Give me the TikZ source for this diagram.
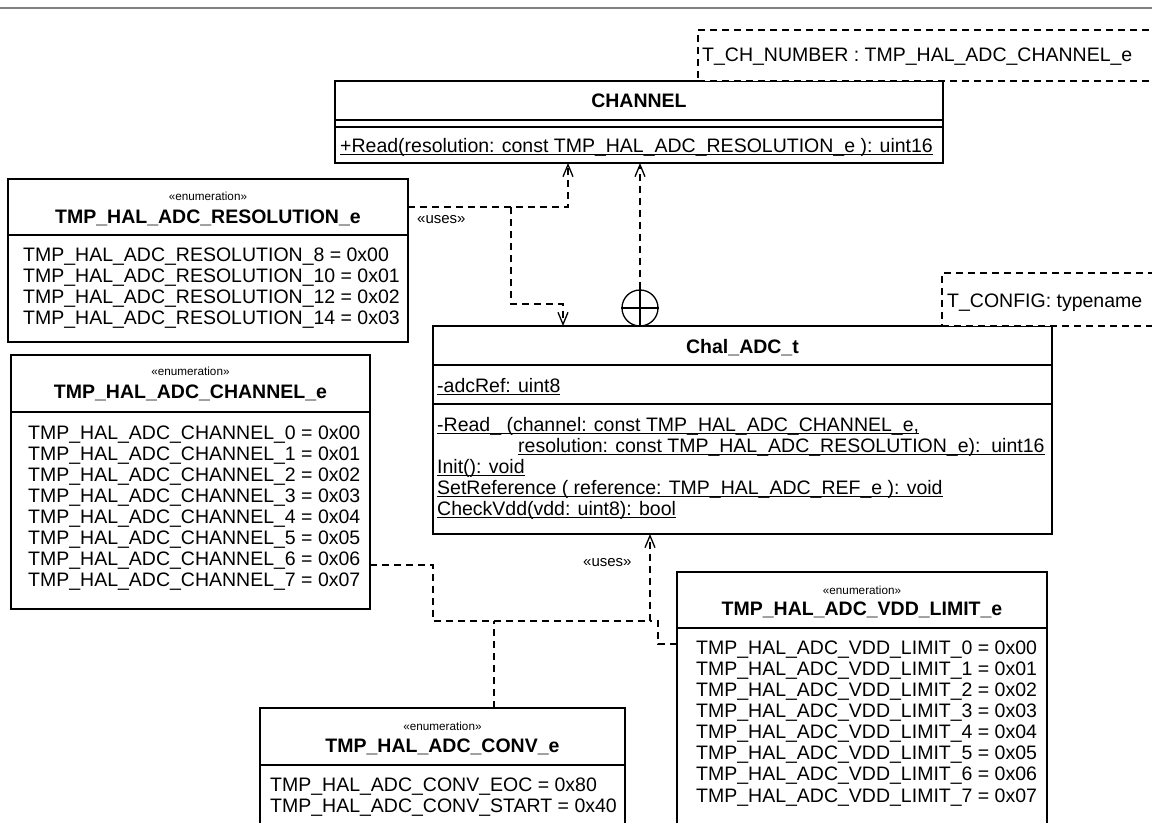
\documentclass[tikz,border=0pt]{standalone}
\usepackage{fontspec}
\setmainfont{Liberation Sans}
\usetikzlibrary{arrows.meta,calc}
\newcommand{\ulx}[1]{\setbox0=\hbox{#1}\rlap{\rule[-2.8bp]{\wd0}{1.1bp}}\box0}
\newcommand{\fmain}{\fontsize{19.5bp}{21bp}\selectfont}
\newcommand{\fsmall}{\fontsize{11.7bp}{13bp}\selectfont}
\newcommand{\fuses}{\fontsize{15bp}{17bp}\selectfont}
\begin{document}
\begin{tikzpicture}[x=1bp,y=-1bp,
  box/.style={draw=black, line width=1.4bp, fill=white, inner sep=0pt, outer sep=0pt, anchor=north west},
  tbox/.style={draw=black, line width=1.3bp, dash pattern=on 7bp off 5bp, fill=white, inner sep=0pt, outer sep=0pt, anchor=north west},
  sepl/.style={line width=1.4bp},
  dep/.style={line width=1.3bp, dash pattern=on 7bp off 5bp},
  deparrow/.style={-{Straight Barb[length=12bp,width=10bp,line width=1.3bp]}},
  txt/.style={inner sep=0pt, anchor=base west, font=\fmain},
  ttl/.style={inner sep=0pt, anchor=base, font=\fmain\bfseries},
  stereo/.style={inner sep=0pt, anchor=base, font=\fsmall},
  uses/.style={inner sep=0pt, anchor=base west, font=\fuses}]
\useasboundingbox (0,0) rectangle (1152,823);
\clip (0,0) rectangle (1152,823);
\fill[white] (0,0) rectangle (1152,823);
\draw[black!50, line width=2bp] (0,8) -- (1152,8);

% ---------- connectors ----------
\coordinate (rb) at (511,207);
\coordinate (rc) at (563,304);
\coordinate (c6) at (400,565);
\coordinate (j1) at (433,621);
\coordinate (j2) at (650,621);
\coordinate (j3) at (658,621);
\coordinate (vv) at (660,644);
\coordinate (cv) at (494,621);

% ---------- CHANNEL ----------
\node[box, minimum width=608bp, minimum height=82bp] (chan) at (335,81) {};
\draw[sepl] ($(chan.north west)+(0,39)$) -- ($(chan.north east)+(0,39)$);
\draw[sepl] ($(chan.north west)+(0,46)$) -- ($(chan.north east)+(0,46)$);
\node[ttl] (chanT) at (639,107) {CHANNEL};
\node[txt] (chanOp) at (340,152) {\ulx{+Read(resolution: const TMP\_HAL\_ADC\_RESOLUTION\_e ): uint16}};
\node[tbox, minimum width=470bp, minimum height=51bp] (tch) at (698,30) {};
\node[txt] (tchT) at (702,61) {T\_CH\_NUMBER : TMP\_HAL\_ADC\_CHANNEL\_e};

% ---------- Chal_ADC_t ----------
\node[box, minimum width=619bp, minimum height=208bp] (chal) at (433,326) {};
\draw[sepl] ($(chal.north west)+(0,39)$) -- ($(chal.north east)+(0,39)$);
\draw[sepl] ($(chal.north west)+(0,78)$) -- ($(chal.north east)+(0,78)$);
\node[ttl] (chalT) at (742.5,353) {Chal\_ADC\_t};
\node[txt] (chalA) at (437,392) {\ulx{-adcRef: uint8}};
\node[txt] (chalO1) at (437,431) {\ulx{-Read\_ (channel: const TMP\_HAL\_ADC\_CHANNEL\_e,}};
\node[txt] (chalO2) at (518,452) {\ulx{resolution: const TMP\_HAL\_ADC\_RESOLUTION\_e):\ \ uint16}};
\node[txt] (chalO3) at (437,473) {\ulx{Init(): void}};
\node[txt] (chalO4) at (437,494) {\ulx{SetReference ( reference: TMP\_HAL\_ADC\_REF\_e ): void}};
\node[txt] (chalO5) at (437,515) {\ulx{CheckVdd(vdd: uint8): bool}};
\node[tbox, minimum width=230bp, minimum height=53bp] (tcfg) at (942,273) {};
\node[txt] (tcfgT) at (947,307) {T\_CONFIG: typename};

% ---------- RESOLUTION enum ----------
\node[box, minimum width=400bp, minimum height=163bp] (res) at (8,179) {};
\draw[sepl] ($(res.north west)+(0,56)$) -- ($(res.north east)+(0,56)$);
\node[stereo] (resS) at (208,200) {«enumeration»};
\node[ttl] (resT) at (208,223) {TMP\_HAL\_ADC\_RESOLUTION\_e};
\node[txt] (res1) at (23,261) {TMP\_HAL\_ADC\_RESOLUTION\_8 = 0x00};
\node[txt] (res2) at (23,282) {TMP\_HAL\_ADC\_RESOLUTION\_10 = 0x01};
\node[txt] (res3) at (23,303) {TMP\_HAL\_ADC\_RESOLUTION\_12 = 0x02};
\node[txt] (res4) at (23,324) {TMP\_HAL\_ADC\_RESOLUTION\_14 = 0x03};

% ---------- CHANNEL enum ----------
\node[box, minimum width=359bp, minimum height=254bp] (chE) at (11,355) {};
\draw[sepl] ($(chE.north west)+(0,57)$) -- ($(chE.north east)+(0,57)$);
\node[stereo] (chES) at (190.5,375) {«enumeration»};
\node[ttl] (chET) at (190.5,398) {TMP\_HAL\_ADC\_CHANNEL\_e};
\foreach \i in {0,...,7}{
  \node[txt] (chE\i) at (28,439+21*\i) {TMP\_HAL\_ADC\_CHANNEL\_\i\ = 0x0\i};
}

% ---------- CONV enum ----------
\node[box, minimum width=365bp, minimum height=140bp] (conv) at (260,708) {};
\draw[sepl] ($(conv.north west)+(0,57)$) -- ($(conv.north east)+(0,57)$);
\node[stereo] (convS) at (442.5,730) {«enumeration»};
\node[ttl] (convT) at (442.5,752) {TMP\_HAL\_ADC\_CONV\_e};
\node[txt] (conv1) at (270,791) {TMP\_HAL\_ADC\_CONV\_EOC = 0x80};
\node[txt] (conv2) at (270,812) {TMP\_HAL\_ADC\_CONV\_START = 0x40};

% ---------- VDD enum ----------
\node[box, minimum width=370bp, minimum height=270bp] (vdd) at (677,572) {};
\draw[sepl] ($(vdd.north west)+(0,56)$) -- ($(vdd.north east)+(0,56)$);
\node[stereo] (vddS) at (862,594) {«enumeration»};
\node[ttl] (vddT) at (862,615) {TMP\_HAL\_ADC\_VDD\_LIMIT\_e};
\foreach \i in {0,...,7}{
  \node[txt] (vdd\i) at (696,654+21.15*\i) {TMP\_HAL\_ADC\_VDD\_LIMIT\_\i\ = 0x0\i};
}

% ---------- dependencies ----------
\draw[dep,deparrow] (res.east |- rb) -| ($(chan.south west)+(233,0)$);
\draw[dep,deparrow] (rb) |- (rc) -- (rc |- chal.north);
\node[uses] (uses1) at (417,223) {«uses»};

\node[circle, draw=black, line width=1.3bp, minimum size=36bp, inner sep=0pt, fill=white] (nest) at (640,308) {};
\draw[line width=1.3bp] (nest.north) -- (nest.south) (nest.west) -- (nest.east);
\draw[dep,deparrow] (nest.north) -- (nest.north |- chan.south);

\draw[dep,deparrow] (chE.east |- c6) -| (j1) -| (j2 |- chal.south);
\draw[dep] (cv |- conv.north) -- (cv);
\draw[dep] (vdd.west |- vv) -| (j3) -- (j2);
\node[uses] (uses2) at (583,566) {«uses»};
\end{tikzpicture}
\end{document}
